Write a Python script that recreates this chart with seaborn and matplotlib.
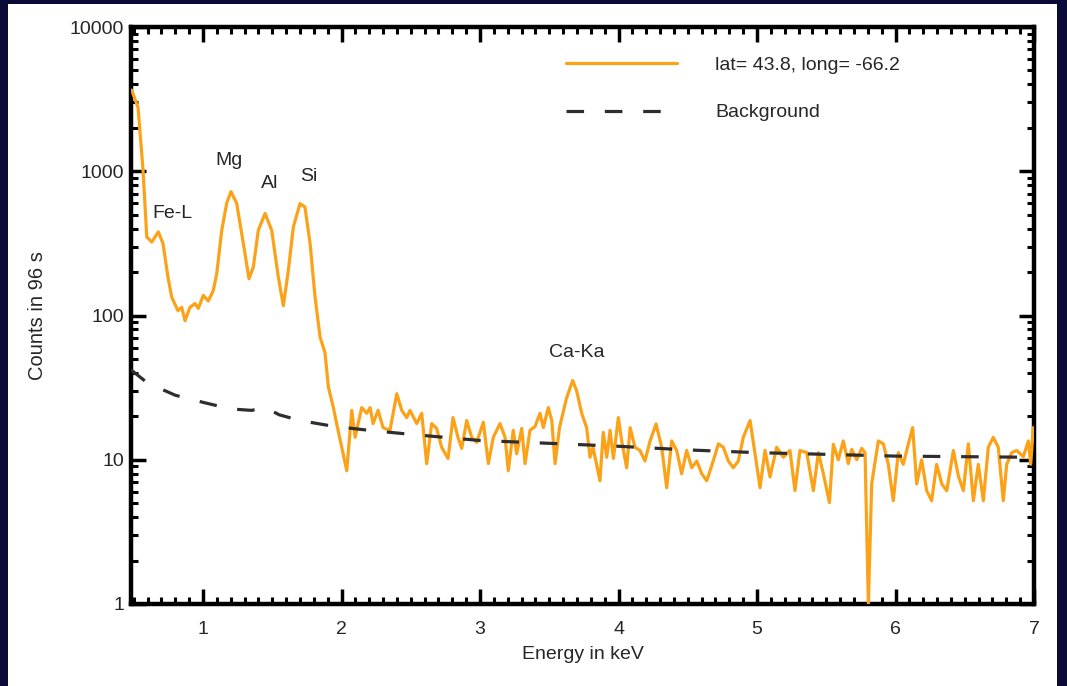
import matplotlib
matplotlib.use("Agg")
import matplotlib.pyplot as plt
from matplotlib.patches import Rectangle
from matplotlib.ticker import MultipleLocator, LogLocator, FixedLocator, FixedFormatter, NullFormatter
import seaborn as sns
import pandas as pd

# ---------------- data ----------------
energy_kev = [
    0.485, 0.531, 0.567, 0.594, 0.630, 0.677, 0.711, 0.747, 0.774, 0.819,
    0.846, 0.870, 0.906, 0.942, 0.966, 1.002, 1.038, 1.074, 1.099, 1.135,
    1.171, 1.202, 1.243, 1.291, 1.332, 1.363, 1.399, 1.448, 1.496, 1.544,
    1.580, 1.616, 1.652, 1.700, 1.736, 1.773, 1.809, 1.845, 1.881, 1.905,
    1.941, 1.975, 2.038, 2.074, 2.098, 2.146, 2.182, 2.206, 2.228, 2.264,
    2.300, 2.350, 2.399, 2.435, 2.471, 2.495, 2.543, 2.579, 2.615, 2.651,
    2.687, 2.723, 2.769, 2.805, 2.841, 2.868, 2.904, 2.940, 2.976, 3.024,
    3.060, 3.096, 3.144, 3.181, 3.204, 3.240, 3.265, 3.301, 3.325, 3.361,
    3.397, 3.433, 3.457, 3.493, 3.518, 3.542, 3.574, 3.626, 3.669, 3.698,
    3.734, 3.770, 3.794, 3.816, 3.866, 3.890, 3.915, 3.939, 3.963, 3.999,
    4.023, 4.059, 4.084, 4.119, 4.155, 4.191, 4.228, 4.271, 4.312, 4.348,
    4.384, 4.420, 4.456, 4.492, 4.529, 4.565, 4.601, 4.637, 4.684, 4.721,
    4.757, 4.793, 4.829, 4.865, 4.901, 4.950, 4.986, 5.022, 5.058, 5.094,
    5.142, 5.190, 5.238, 5.274, 5.310, 5.359, 5.407, 5.443, 5.479, 5.523,
    5.551, 5.587, 5.623, 5.659, 5.684, 5.720, 5.756, 5.780, 5.804, 5.828,
    5.876, 5.912, 5.948, 5.984, 6.020, 6.056, 6.093, 6.124, 6.153, 6.189,
    6.225, 6.261, 6.297, 6.334, 6.370, 6.418, 6.454, 6.490, 6.526, 6.562,
    6.598, 6.634, 6.670, 6.706, 6.742, 6.778, 6.803, 6.839, 6.875, 6.923,
    6.959, 6.976, 6.995,
]
counts = [
    3650, 2760, 1015, 350, 323, 380, 316, 184, 134, 108,
    114, 92, 114, 121, 112, 138, 126, 149, 195, 389,
    600, 722, 600, 316, 180, 216, 389, 510, 389, 184,
    117, 205, 410, 596, 565, 316, 134, 71, 55, 32,
    23, 16, 8.4, 22, 14.3, 23, 21, 23, 17.8, 22,
    16.7, 16, 28.7, 22, 19.6, 22, 17.8, 21, 9.4, 17.8,
    16.5, 12.2, 10.2, 19.6, 14.3, 12, 18.7, 14.3, 13.2, 18.2,
    9.4, 14.3, 17.8, 14.3, 8.4, 16, 11, 16.5, 9.4, 16,
    17, 21, 16.7, 23, 18.7, 9.4, 16.7, 27, 35.4, 30,
    21, 16.7, 10.4, 12.2, 7.15, 15.5, 10.4, 16, 10.2, 19.6,
    13.5, 8.8, 16.7, 12.2, 11.6, 9.8, 13.5, 17.7, 12.2, 6.4,
    13.5, 11.6, 8.0, 11.6, 8.8, 9.8, 8.0, 7.15, 9.8, 12.9,
    12.2, 9.8, 8.8, 9.8, 14.3, 18.7, 11, 6.4, 11.6, 7.6,
    12.2, 10.4, 11.6, 6.1, 11.6, 11.2, 6.1, 11.2, 8, 5.05,
    12.8, 10, 13.5, 9.4, 11.8, 10, 12, 11.2, 1.0, 6.8,
    13.5, 12.9, 9.3, 5.2, 11.2, 9.3, 12.9, 16.7, 6.8, 10,
    6.1, 5.2, 9.3, 6.8, 6.1, 11.6, 7.7, 6.1, 12.9, 5.2,
    9.3, 5.2, 12.2, 14.3, 12.2, 5.2, 9.3, 11.2, 11.6, 10.5,
    13.5, 9.3, 16.7,
]

bg_energy_kev = [0.48, 0.6, 0.8, 1.0, 1.2, 1.35, 1.45, 1.55, 1.7, 1.95,
                 2.2, 2.5, 3.0, 3.5, 4.0, 4.5, 5.0, 5.5, 6.0, 6.5, 7.0]
bg_counts = [42, 34, 28, 25, 22.5, 22, 23, 20.5, 18.7, 17,
             16, 15, 13.6, 13, 12.4, 11.7, 11.2, 10.9, 10.6, 10.5, 10.4]

peak_labels = ["Fe-L", "Mg", "Al", "Si", "Ca-Ka"]
peak_label_x = [0.777, 1.188, 1.484, 1.766, 3.695]
peak_label_y = [510, 1190, 826, 923, 55.4]

x_ticks = [1, 2, 3, 4, 5, 6, 7]
y_ticks = [1, 10, 100, 1000, 10000]
y_tick_labels = ["1", "10", "100", "1000", "10000"]

series_label = "lat= 43.8, long= -66.2"
bg_label = "Background"

# ---------------- style ----------------
sns.set_theme(style="ticks")
plt.rcParams["font.family"] = ["Liberation Sans", "DejaVu Sans"]

NAVY = "#0b0b3a"
ORANGE = "#FCA219"
DARK = "#262626"

fig = plt.figure(figsize=(10.67, 6.86), dpi=100, facecolor=NAVY)
fig.patches.append(Rectangle((8 / 1067, 0), (1057 - 8) / 1067, (686 - 4) / 686,
                             transform=fig.transFigure, facecolor="white",
                             edgecolor="none", zorder=-10))
ax = fig.add_axes([131 / 1067, 1 - 604 / 686, (1034 - 131) / 1067, (604 - 27) / 686])
ax.set_facecolor("white")

spec = pd.DataFrame({"energy": energy_kev, "counts": counts})
bg = pd.DataFrame({"energy": bg_energy_kev, "counts": bg_counts})

sns.lineplot(data=spec, x="energy", y="counts", ax=ax, color=ORANGE,
             linewidth=2.3, estimator=None, sort=False, label=series_label, zorder=3)
sns.lineplot(data=bg, x="energy", y="counts", ax=ax, color="#2e2e2e",
             linewidth=2.3, estimator=None, sort=False, label=bg_label, zorder=4)
bg_line = ax.get_lines()[1]
bg_line.set_dashes([5.5, 6.5])

ax.set_yscale("log")
ax.set_xlim(0.48, 7.0)
ax.set_ylim(1, 10000)

ax.xaxis.set_major_locator(FixedLocator(x_ticks))
ax.xaxis.set_minor_locator(MultipleLocator(0.1))
ax.yaxis.set_major_locator(FixedLocator(y_ticks))
ax.yaxis.set_major_formatter(FixedFormatter(y_tick_labels))
ax.yaxis.set_minor_locator(LogLocator(base=10, subs=[2, 3, 4, 5, 6, 7, 8, 9]))
ax.yaxis.set_minor_formatter(NullFormatter())

ax.tick_params(which="both", direction="in", top=True, right=True,
               colors="black", labelcolor=DARK, labelsize=14)
ax.tick_params(which="major", length=11, width=2.5)
ax.tick_params(which="minor", length=5, width=2.2)
ax.tick_params(axis="x", which="both", pad=12)
ax.tick_params(axis="y", which="both", pad=5)

for sp in ax.spines.values():
    sp.set_visible(True)
    sp.set_linewidth(3.2)
    sp.set_color("black")

ax.set_xlabel("Energy in keV", fontsize=14, color=DARK, labelpad=6)
ax.set_ylabel("Counts in 96 s", fontsize=14.5, color=DARK, labelpad=16)

for t, xx, yy in zip(peak_labels, peak_label_x, peak_label_y):
    ax.text(xx, yy, t, ha="center", va="center", fontsize=14, color=DARK, zorder=5)

leg = ax.legend(loc="upper left", bbox_to_anchor=(0.462, 0.98), frameon=False,
                fontsize=14, handlelength=5.7, handletextpad=2.0,
                labelspacing=1.55, labelcolor=DARK)

fig.savefig("out.png", dpi=100, facecolor=NAVY)
